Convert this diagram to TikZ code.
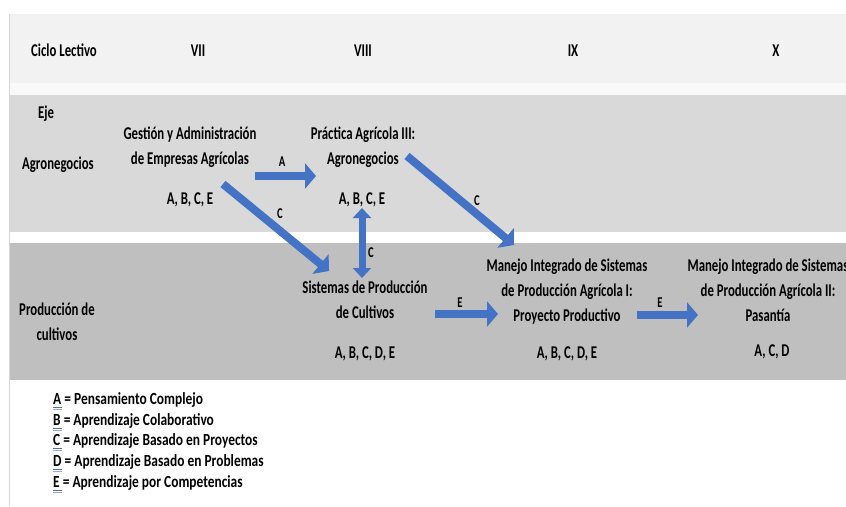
\documentclass[tikz,border=0pt]{standalone}
\usepackage{fontspec}
\setmainfont{Carlito}[FakeStretch=0.71]
\newfontfamily\legfont{Carlito}[FakeStretch=0.79]
\usetikzlibrary{arrows.meta}
\definecolor{hdr}{HTML}{F2F2F2}
\definecolor{strip}{HTML}{F9F9F9}
\definecolor{agro}{HTML}{D9D9D9}
\definecolor{prod}{HTML}{BFBFBF}
\definecolor{barrow}{HTML}{4472C4}
\definecolor{ulA}{HTML}{5A6E96}
\definecolor{ulB}{HTML}{8FAADC}
\definecolor{edge}{HTML}{D6D6D6}
\tikzset{
  txt/.style={font=\bfseries\fontsize{18}{25}\selectfont, align=center, inner sep=0pt, anchor=base},
  hdrtxt/.style={font=\bfseries\fontsize{18}{22}\selectfont, inner sep=0pt, anchor=base},
  lbl/.style={font=\bfseries\fontsize{15}{17}\selectfont, inner sep=0pt, anchor=base},
  leg/.style={font=\legfont\bfseries\fontsize{17}{20}\selectfont, inner sep=0pt, anchor=base west},
  blockarrow/.style={draw=barrow, line width=8pt, -{Triangle[length=11pt,width=25pt]}},
  dblarrow/.style={draw=barrow, line width=7pt, {Triangle[length=10pt,width=18pt]}-{Triangle[length=10pt,width=18pt]}},
  ulineA/.style={draw=ulA, line width=0.8pt},
  ulineB/.style={draw=ulB, line width=0.8pt}
}
\begin{document}
\begin{tikzpicture}[x=1pt,y=-1pt]
\useasboundingbox (0,0) rectangle (846,506);
\clip (0,0) rectangle (846,506);
\fill[white] (0,0) rectangle (846,506);
% bands
\fill[hdr] (9,14) rectangle (846,83);
\fill[strip] (9,83) rectangle (846,95);
\fill[agro] (9,95) rectangle (846,232);
\fill[prod] (9,243) rectangle (846,380);
\draw[edge, line width=0.8pt] (9,14) -- (9,506);
% header
\node[hdrtxt] (ciclo) at (64,56) {Ciclo Lectivo};
\node[hdrtxt] (vii) at (198,56) {VII};
\node[hdrtxt] (viii) at (363,56) {VIII};
\node[hdrtxt] (ix) at (573,56) {IX};
\node[hdrtxt] (x) at (776,56) {X};
% row labels
\node[txt] (eje) at (46,118) {Eje};
\node[txt] (agro) at (58,169) {Agronegocios};
\node[txt] (prodlbl) at (57,340) {Producción de\\cultivos};
% courses
\node[txt] (gest) at (190,164) {Gestión y Administración\\de Empresas Agrícolas};
\node[txt] (gestc) at (190,204) {A, B, C, E};
\node[txt] (prac) at (363,164) {Práctica Agrícola III:\\Agronegocios};
\node[txt] (pracc) at (362,204) {A, B, C, E};
\node[txt] (sist) at (365,318) {Sistemas de Producción\\de Cultivos};
\node[txt] (sistc) at (365,358) {A, B, C, D, E};
\node[txt] (man1) at (567,321) {Manejo Integrado de Sistemas\\de Producción Agrícola I:\\Proyecto Productivo};
\node[txt] (man1c) at (567,358) {A, B, C, D, E};
\node[txt] (man2) at (768,321) {Manejo Integrado de Sistemas\\de Producción Agrícola II:\\Pasantía};
\node[txt] (man2c) at (772,356) {A, C, D};
% arrow ends
\coordinate (aS) at (255,176);
\coordinate (aE) at (316,176);
\coordinate (c1S) at (223,184);
\coordinate (c1E) at (329,271);
\coordinate (c2S) at (407,156);
\coordinate (c2E) at (514,245);
\coordinate (vS) at (362,208);
\coordinate (vE) at (362,278);
\coordinate (e1S) at (435,314);
\coordinate (e1E) at (498,314);
\coordinate (e2S) at (637,315);
\coordinate (e2E) at (698,315);
% arrows
\draw[blockarrow] (aS) -- (aE);
\draw[blockarrow] (c1S) -- (c1E);
\draw[blockarrow] (c2S) -- (c2E);
\draw[dblarrow] (vS) -- (vE);
\draw[blockarrow] (e1S) -- (e1E);
\draw[blockarrow] (e2S) -- (e2E);
% arrow labels
\node[lbl] (la) at (282,166) {A};
\node[lbl] (lc1) at (280,218) {C};
\node[lbl] (lc2) at (477,205) {C};
\node[lbl] (lc3) at (371,257) {C};
\node[lbl] (le1) at (460,307) {E};
\node[lbl] (le2) at (660,307) {E};
% legend
\node[leg] (legA) at (53,404) {A = Pensamiento Complejo};
\node[leg] (legB) at (53,425) {B = Aprendizaje Colaborativo};
\node[leg] (legC) at (53,445) {C = Aprendizaje Basado en Proyectos};
\node[leg] (legD) at (53,466) {D = Aprendizaje Basado en Problemas};
\node[leg] (legE) at (53,487) {E = Aprendizaje por Competencias};
\foreach \n in {legA,legB,legC,legD,legE}{
  \draw[ulineA] ([yshift=-3.5pt]\n.base west) -- ++(9,0);
  \draw[ulineB] ([yshift=-5.5pt]\n.base west) -- ++(9,0);
}
\end{tikzpicture}
\end{document}
